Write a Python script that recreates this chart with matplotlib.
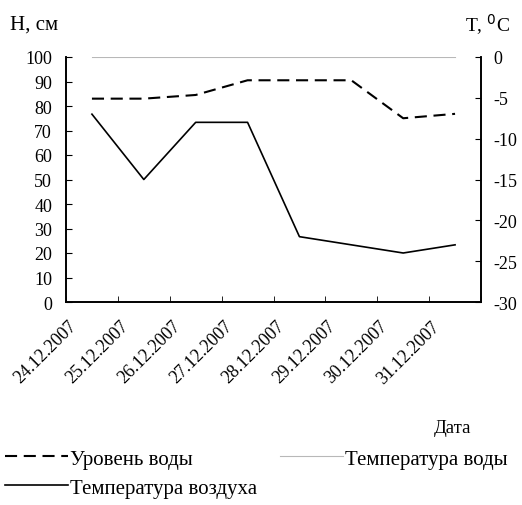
import numpy as np
import matplotlib
matplotlib.use("Agg")
import matplotlib.pyplot as plt
import matplotlib.transforms as mtransforms

plt.rcParams['font.family'] = ['Liberation Serif', 'DejaVu Serif']
plt.rcParams['font.size'] = 13
plt.rcParams['axes.unicode_minus'] = False

dates = ['24.12.2007', '25.12.2007', '26.12.2007', '27.12.2007',
         '28.12.2007', '29.12.2007', '30.12.2007', '31.12.2007']
water_level = [83, 83, 84.5, 90.5, 90.5, 90.5, 75, 76.8]
water_temp = [0, 0, 0, 0, 0, 0, 0, 0]
air_temp = [-7, -15, -8, -8, -22, -23, -24, -23]

fig = plt.figure(figsize=(5.22, 5.06), dpi=100)
ax = fig.add_axes([66/522, 1-303/506, (481-66)/522, (303-58)/506])
ax2 = ax.twinx()

x = np.arange(len(dates))
l1, = ax.plot(x, water_level, color='black', lw=1.5, dashes=(5.8, 3.2))
l2, = ax2.plot(x, water_temp, color='#b8b8b8', lw=0.8)
l3, = ax2.plot(x, air_temp, color='black', lw=1.2)

ax.set_xlim(-0.5, len(dates) - 0.5)
ax.set_ylim(0, 100)
ax.set_yticks(range(0, 101, 10))
ax2.set_ylim(-30, 0)
ax2.set_yticks(range(-30, 1, 5))

ax.set_xticks(x)
ax.set_xticklabels(dates, rotation=45, ha='right', va='top', rotation_mode='anchor')
ax.set_xticks(np.arange(-0.5, len(dates)), minor=True)
ax.tick_params(axis='x', which='major', length=0, pad=6)
ax.tick_params(axis='x', which='minor', direction='in', length=4)
ax.tick_params(axis='y', direction='in', length=4, pad=10)
ax2.tick_params(axis='y', direction='in', length=4, pad=9)

offset = mtransforms.ScaledTranslation(-0.24, -0.07, fig.dpi_scale_trans)
for lab in ax.get_xticklabels():
    lab.set_transform(lab.get_transform() + offset)

for a in (ax, ax2):
    a.spines['top'].set_visible(False)
    for s in ('left', 'right', 'bottom'):
        a.spines[s].set_linewidth(1.2)

fig.text(10/522, 1-25/506, 'H, см', ha='left', va='center', fontsize=15)
fig.text(465/522, 1-25/506, 'T, $^0$C', ha='left', va='center', fontsize=14)
fig.text(471/522, 1-429/506, 'Дата', ha='right', va='center', fontsize=13.5)

fig.legend([l1, l3, l2], ['Уровень воды', 'Температура воздуха', 'Температура воды'],
           ncol=2, loc='upper left', bbox_to_anchor=(5/522, 1-450/506), frameon=False,
           fontsize=15, handlelength=3.0, handletextpad=0.12, columnspacing=1.1,
           labelspacing=0.45, borderaxespad=0, borderpad=0)

fig.savefig('out.png', dpi=100)
